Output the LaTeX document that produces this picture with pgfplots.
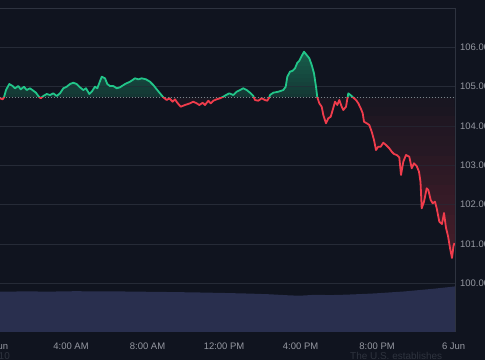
\documentclass[border=0pt]{standalone}
\usepackage{fontspec}
\setmainfont{Liberation Sans}
\usepackage{pgfplots}
\pgfplotsset{compat=1.18}
\usepackage{pgfplotstable}

\definecolor{bgc}{RGB}{16,20,31}
\definecolor{gridc}{RGB}{38,43,55}
\definecolor{borderc}{RGB}{46,51,63}
\definecolor{txtc}{RGB}{149,152,161}
\definecolor{dimc}{RGB}{46,51,62}
\definecolor{gcol}{RGB}{34,197,137}
\definecolor{rcol}{RGB}{240,60,76}
\definecolor{volc}{RGB}{41,47,78}
\definecolor{basec}{RGB}{125,130,140}

\pgfplotstableread{
h v
0.2875 104.703
0.4287 104.678
0.4966 104.729
0.6012 104.914
0.7737 105.067
0.9514 105.016
1.0716 104.958
1.2441 105.016
1.3696 104.932
1.5421 104.998
1.6832 104.914
1.8557 104.958
2.0282 104.897
2.1694 104.846
2.2896 104.762
2.4151 104.703
2.5510 104.762
2.7287 104.813
2.9012 104.787
3.0737 104.830
3.2514 104.762
3.4239 104.830
3.5965 104.958
3.7742 104.998
3.9467 105.067
4.1192 105.100
4.2969 105.067
4.4694 104.983
4.6419 104.914
4.7831 104.958
4.9556 104.813
5.0810 104.871
5.2535 104.998
5.3738 104.958
5.6038 105.252
5.7763 105.212
5.8965 105.067
6.0376 105.016
6.2101 105.016
6.3879 104.958
6.5604 104.983
6.8218 105.067
7.0831 105.125
7.3445 105.212
7.5170 105.186
7.6947 105.212
7.9195 105.186
8.1286 105.125
8.3011 105.041
8.4788 104.932
8.6513 104.830
8.8239 104.729
9.0016 104.660
9.1375 104.703
9.3152 104.617
9.4355 104.678
9.5557 104.591
9.7334 104.490
9.9582 104.533
10.2196 104.576
10.3921 104.617
10.5698 104.576
10.7057 104.533
10.8834 104.591
11.0037 104.533
11.1762 104.642
11.3016 104.576
11.4375 104.642
11.6153 104.678
11.7878 104.703
11.9603 104.744
12.1014 104.787
12.2739 104.830
12.4830 104.787
12.6607 104.871
12.8333 104.914
13.0058 104.958
13.1835 104.914
13.3560 104.846
13.5285 104.762
13.6174 104.660
13.7899 104.642
13.9676 104.703
14.1401 104.660
14.2603 104.642
14.3649 104.729
14.4015 104.787
14.5740 104.846
14.8354 104.871
15.0967 104.914
15.2222 104.998
15.3058 105.252
15.4470 105.380
15.5881 105.405
15.7083 105.466
15.8286 105.608
15.9331 105.659
16.0586 105.779
16.1788 105.888
16.3199 105.804
16.4559 105.720
16.5813 105.550
16.7015 105.339
16.8061 104.998
16.8740 104.729
16.9786 104.576
17.1041 104.490
17.1877 104.279
17.3288 104.068
17.4491 104.195
17.5745 104.235
17.6791 104.406
17.7993 104.617
17.9195 104.533
18.0241 104.660
18.1495 104.490
18.2332 104.406
18.3743 104.490
18.4945 104.830
18.6723 104.762
18.7925 104.703
18.8971 104.660
19.0173 104.576
19.1427 104.449
19.2473 104.322
19.3152 104.108
19.4564 104.068
19.5923 104.024
19.7178 103.854
19.8380 103.643
19.9425 103.389
20.0628 103.473
20.1882 103.473
20.3241 103.574
20.4653 103.516
20.6378 103.432
20.7632 103.346
20.8835 103.287
21.0246 103.262
21.1605 103.203
21.2494 102.753
21.3697 103.091
21.5108 103.262
21.6833 103.218
21.8087 102.923
21.9289 103.051
22.0701 102.982
22.1903 102.837
22.2687 102.575
22.3315 101.906
22.4517 102.074
22.5928 102.415
22.6765 102.372
22.8019 102.117
22.9065 102.034
23.0267 102.074
23.1156 101.906
23.2515 101.566
23.3926 101.507
23.4972 101.787
23.6017 101.406
23.7063 101.202
23.8108 100.897
23.9154 100.643
23.9938 100.948
24.0460 101.024
}\pricetab

\pgfplotstableread{
h vol
0.2875 40.3
1.594 40.6
2.901 40.4
4.208 40.8
5.515 40.6
6.822 40.5
8.129 40.2
9.436 39.9
10.743 39.5
12.050 39.0
13.357 38.4
14.402 37.7
15.448 36.6
15.971 36.3
16.755 37.2
17.539 36.9
18.323 37.3
19.108 37.9
19.892 38.6
20.676 39.6
21.460 40.6
22.244 42.0
23.028 43.4
23.551 44.5
23.812 45.0
24.072 45.6
}\voltab

\newcommand\gband[2]{%
  \begin{scope}
    \clip (axis cs:0,#1) rectangle (axis cs:25,108);
    \addplot[draw=none, fill=gcol!#2!bgc] table[x=h,y=v] {\pricetab} -- (axis cs:24.046,104.73) -- (axis cs:0.2875,104.73) -- cycle;
  \end{scope}}
\newcommand\rband[2]{%
  \begin{scope}
    \clip (axis cs:0,98) rectangle (axis cs:25,#1);
    \addplot[draw=none, fill=rcol!#2!bgc] table[x=h,y=v] {\pricetab} -- (axis cs:24.046,104.73) -- (axis cs:0.2875,104.73) -- cycle;
  \end{scope}}

\newcommand\tickfont{\fontsize{9.5}{11}\selectfont}

\begin{document}
\begin{tikzpicture}
\fill[bgc] (0,0) rectangle (485bp,360bp);

% volume
\begin{axis}[at={(0bp,28bp)}, anchor=south west, width=455bp, height=324bp, scale only axis,
  xmin=0.2875, xmax=24.072, ymin=0, ymax=324, hide axis]
\addplot[draw=none, fill=volc] table[x=h,y=vol] {\voltab} \closedcycle;
\end{axis}

% price
\begin{axis}[at={(0bp,28bp)}, anchor=south west, width=455bp, height=324bp, scale only axis,
  xmin=0.2875, xmax=24.072, ymin=98.761, ymax=107,
  axis line style={draw=none}, tick style={draw=none}, major tick length=0pt,
  ytick={100,101,102,103,104,105,106},
  yticklabels={100.00,101.00,102.00,103.00,104.00,105.00,106.00},
  yticklabel pos=right,
  yticklabel style={anchor=west, inner sep=0pt, xshift=5bp, text=txtc, font=\tickfont},
  xtick={4,8,12,16,20,24},
  xticklabels={4:00 AM,8:00 AM,12:00 PM,4:00 PM,8:00 PM,6 Jun},
  xticklabel style={anchor=base, yshift=-17.3bp, text=txtc, font=\tickfont},
  ymajorgrids, grid style={gridc, line width=0.8bp},
  clip mode=individual]

\gband{104.73}{20}
\gband{104.83}{22}
\gband{104.93}{24}
\gband{105.03}{26}
\gband{105.13}{28}
\gband{105.23}{30}
\gband{105.33}{32}
\gband{105.43}{34}
\gband{105.53}{36}
\gband{105.63}{38}
\gband{105.73}{40}
\gband{105.83}{42}

\rband{104.73}{4}
\rband{104.48}{5}
\rband{104.23}{7}
\rband{103.98}{8}
\rband{103.73}{9}
\rband{103.48}{10}
\rband{103.23}{12}
\rband{102.98}{13}
\rband{102.73}{14}
\rband{102.48}{16}
\rband{102.23}{17}
\rband{101.98}{18}
\rband{101.73}{20}
\rband{101.48}{21}
\rband{101.23}{22}
\rband{100.98}{24}
\rband{100.73}{25}

\draw[gridc, line width=0.8bp, opacity=0.6] (axis cs:0.2875,101) -- (axis cs:24.072,101);
\draw[gridc, line width=0.8bp, opacity=0.6] (axis cs:0.2875,102) -- (axis cs:24.072,102);
\draw[gridc, line width=0.8bp, opacity=0.6] (axis cs:0.2875,103) -- (axis cs:24.072,103);
\draw[gridc, line width=0.8bp, opacity=0.6] (axis cs:0.2875,104) -- (axis cs:24.072,104);
\draw[gridc, line width=0.8bp, opacity=0.6] (axis cs:0.2875,105) -- (axis cs:24.072,105);
\draw[gridc, line width=0.8bp, opacity=0.6] (axis cs:0.2875,106) -- (axis cs:24.072,106);

\addplot[basec, line width=0.8bp, dash pattern=on 1bp off 2bp] coordinates {(0.2875,104.73) (24.072,104.73)};

\begin{scope}
  \clip (axis cs:0,104.73) rectangle (axis cs:25,108);
  \addplot[gcol, line width=1.8bp, line join=round] table[x=h,y=v] {\pricetab};
\end{scope}
\begin{scope}
  \clip (axis cs:0,98) rectangle (axis cs:25,104.73);
  \addplot[rcol, line width=1.8bp, line join=round] table[x=h,y=v] {\pricetab};
\end{scope}

\draw[borderc, line width=0.8bp] (rel axis cs:0,1) -- (rel axis cs:1,1) -- (rel axis cs:1,0);
\node[anchor=base, yshift=-17.3bp, xshift=2bp, text=txtc, font=\tickfont] at (axis cs:0,98.761) {5 Jun};
\end{axis}

\node[anchor=base west, inner sep=0pt, text=dimc, font=\fontsize{10}{12}\selectfont] at (350bp,1bp) {The U.S. establishes};
\node[anchor=base east, inner sep=0pt, text=dimc, font=\fontsize{10}{12}\selectfont] at (10bp,1bp) {2/10};

\pgfresetboundingbox
\path (0,0) rectangle (485bp,360bp);
\end{tikzpicture}
\end{document}
